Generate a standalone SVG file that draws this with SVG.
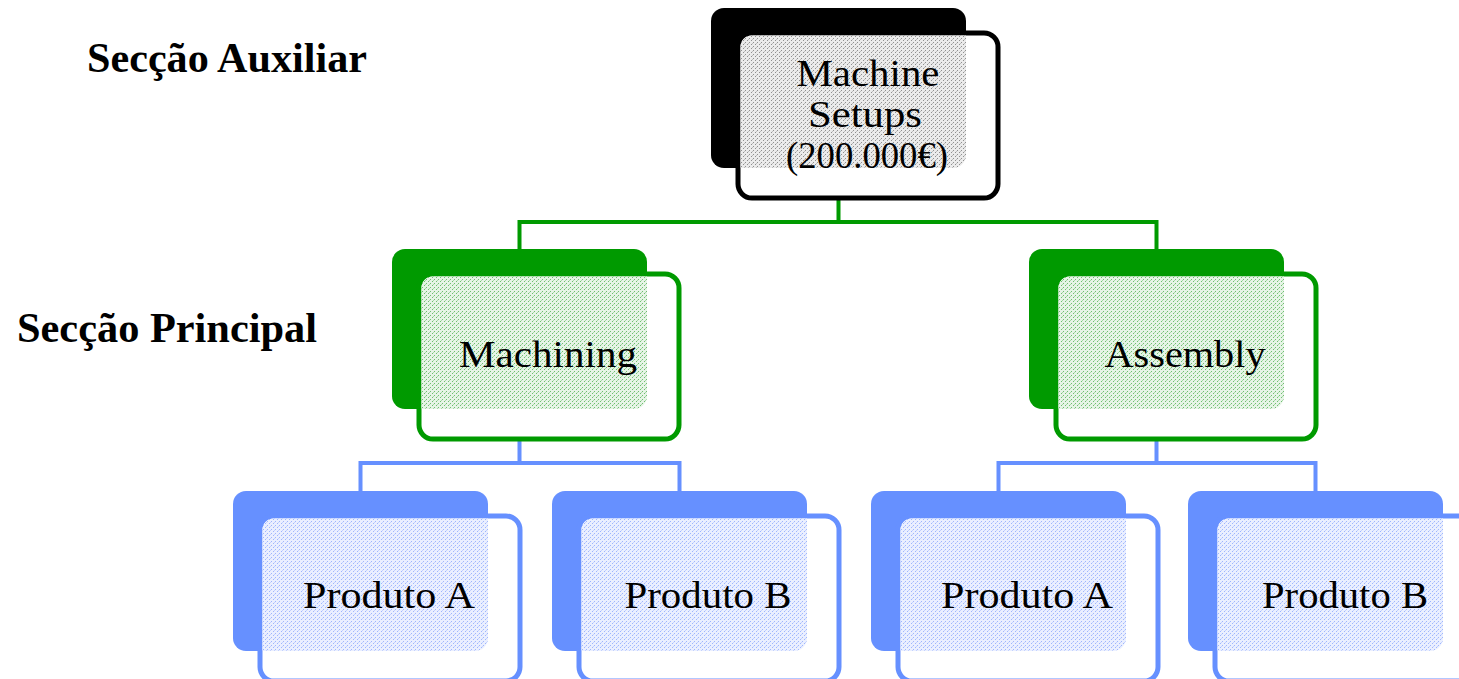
<svg xmlns="http://www.w3.org/2000/svg" width="1459" height="679" viewBox="0 0 1459 679">
  <defs>
    <!-- fine dithered fills for the overlap area of each box -->
    <pattern id="dotGray" width="4" height="4" patternUnits="userSpaceOnUse">
      <rect width="4" height="4" fill="#ebebeb"/>
      <rect x="0" y="0" width="1" height="1" fill="#909090"/>
      <rect x="2" y="2" width="1" height="1" fill="#909090"/>
      <rect x="1" y="3" width="1" height="1" fill="#bdbdbd"/>
    </pattern>
    <pattern id="dotGreen" width="4" height="4" patternUnits="userSpaceOnUse">
      <rect width="4" height="4" fill="#e6f4e6"/>
      <rect x="0" y="0" width="1" height="1" fill="#6fbf6f"/>
      <rect x="2" y="2" width="1" height="1" fill="#6fbf6f"/>
      <rect x="1" y="3" width="1" height="1" fill="#a8d8a8"/>
    </pattern>
    <pattern id="dotBlue" width="4" height="4" patternUnits="userSpaceOnUse">
      <rect width="4" height="4" fill="#eaefff"/>
      <rect x="0" y="0" width="1" height="1" fill="#9fb6fd"/>
      <rect x="2" y="2" width="1" height="1" fill="#9fb6fd"/>
      <rect x="1" y="3" width="1" height="1" fill="#c4d2ff"/>
    </pattern>
    <!-- shared box geometry, relative to the back card's top-left corner -->
    <rect id="back" x="0" y="0" width="255" height="160" rx="13"/>
    <rect id="front" x="27" y="25" width="260" height="165" rx="14"/>
    <path id="overlap" d="M40.5,27.5 H255 V147 a13,13 0 0 1 -13,13 H29.5 V38.5 a11,11 0 0 1 11,-11 Z"/>
  </defs>
  <style>
    .lbl { font-family: "Liberation Serif", "Times New Roman", serif; font-size: 38px; fill: #000; text-anchor: middle; }
    .sec { font-family: "Liberation Serif", "Times New Roman", serif; font-size: 42px; font-weight: bold; fill: #000; }
    .blackBack { fill: #000; }
    .blackFront { fill: #fff; stroke: #000; stroke-width: 5; }
    .greenBack { fill: #009a00; }
    .greenFront { fill: #fff; stroke: #009a00; stroke-width: 5; }
    .blueBack { fill: #6690ff; }
    .blueFront { fill: #fff; stroke: #6690ff; stroke-width: 5; }
    .wireG { fill: none; stroke: #009a00; stroke-width: 4; }
    .wireB { fill: none; stroke: #6690ff; stroke-width: 4; }
  </style>

  <rect width="1459" height="679" fill="#fff"/>

  <!-- section titles -->
  <text class="sec" x="87" y="72" textLength="280" lengthAdjust="spacingAndGlyphs">Secção Auxiliar</text>
  <text class="sec" x="17" y="342" textLength="300" lengthAdjust="spacingAndGlyphs">Secção Principal</text>

  <!-- connectors -->
  <g id="connectors">
    <path class="wireG" d="M838.5,199 V222 M518.5,222 H1158.5 M519.5,220 V250 M1156.5,220 V250"/>
    <path class="wireB" d="M519.5,440 V463 M358.5,463 H681.5 M360.5,461 V492 M679.5,461 V492"/>
    <path class="wireB" d="M1156.5,440 V463 M996.5,463 H1317.5 M998.5,461 V492 M1315.5,461 V492"/>
    <path d="M838.5,172 V196" stroke="#8fd08f" stroke-width="3" stroke-dasharray="1 2" opacity="0.7"/>
    <path d="M519.5,414 V437" stroke="#b3c6ff" stroke-width="3" stroke-dasharray="1 2" opacity="0.8"/>
    <path d="M1156.5,414 V437" stroke="#b3c6ff" stroke-width="3" stroke-dasharray="1 2" opacity="0.8"/>
  </g>

  <!-- Machine Setups -->
  <g id="node-setups" transform="translate(711,8)">
    <use href="#back" class="blackBack"/>
    <use href="#front" class="blackFront"/>
    <use href="#overlap" fill="url(#dotGray)"/>
    <text class="lbl" x="157" y="78" textLength="143" lengthAdjust="spacingAndGlyphs">Machine</text>
    <text class="lbl" x="154" y="119" textLength="114" lengthAdjust="spacingAndGlyphs">Setups</text>
    <text class="lbl" x="156" y="160" textLength="162" lengthAdjust="spacingAndGlyphs">(200.000€)</text>
  </g>

  <!-- Machining -->
  <g id="node-machining" transform="translate(392,249)">
    <use href="#back" class="greenBack"/>
    <use href="#front" class="greenFront"/>
    <use href="#overlap" fill="url(#dotGreen)"/>
    <text class="lbl" x="156" y="118" textLength="178" lengthAdjust="spacingAndGlyphs">Machining</text>
  </g>

  <!-- Assembly -->
  <g id="node-assembly" transform="translate(1029,249)">
    <use href="#back" class="greenBack"/>
    <use href="#front" class="greenFront"/>
    <use href="#overlap" fill="url(#dotGreen)"/>
    <text class="lbl" x="156" y="118" textLength="161" lengthAdjust="spacingAndGlyphs">Assembly</text>
  </g>

  <!-- products under Machining -->
  <g id="node-machining-a" transform="translate(233,491)">
    <use href="#back" class="blueBack"/>
    <use href="#front" class="blueFront"/>
    <use href="#overlap" fill="url(#dotBlue)"/>
    <text class="lbl" x="156" y="117" textLength="172" lengthAdjust="spacingAndGlyphs">Produto A</text>
  </g>
  <g id="node-machining-b" transform="translate(552,491)">
    <use href="#back" class="blueBack"/>
    <use href="#front" class="blueFront"/>
    <use href="#overlap" fill="url(#dotBlue)"/>
    <text class="lbl" x="156" y="117" textLength="167" lengthAdjust="spacingAndGlyphs">Produto B</text>
  </g>

  <!-- products under Assembly -->
  <g id="node-assembly-a" transform="translate(871,491)">
    <use href="#back" class="blueBack"/>
    <use href="#front" class="blueFront"/>
    <use href="#overlap" fill="url(#dotBlue)"/>
    <text class="lbl" x="156" y="117" textLength="172" lengthAdjust="spacingAndGlyphs">Produto A</text>
  </g>
  <g id="node-assembly-b" transform="translate(1188,491)">
    <use href="#back" class="blueBack"/>
    <use href="#front" class="blueFront"/>
    <use href="#overlap" fill="url(#dotBlue)"/>
    <text class="lbl" x="157" y="117" textLength="166" lengthAdjust="spacingAndGlyphs">Produto B</text>
  </g>
</svg>
